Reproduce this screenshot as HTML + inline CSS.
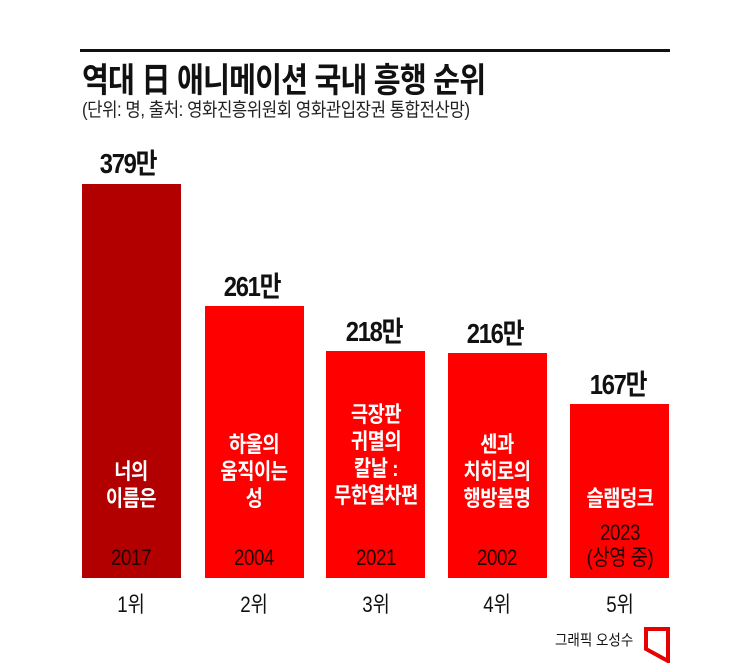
<!DOCTYPE html>
<html><head><meta charset="utf-8"><style>
body{margin:0;width:745px;height:671px;background:#fff;position:relative;overflow:hidden;font-family:"Liberation Sans","Noto Sans CJK KR",sans-serif;}
.a{position:absolute;white-space:nowrap;}
.c{transform:translateX(-50%) scaleX(0.85);text-align:center;}
.bar{position:absolute;bottom:93px;width:99px;background:#ff0000;}
.v{font-size:28px;font-weight:bold;color:#111;letter-spacing:-1.5px;}
.l{font-size:22px;color:#fff;line-height:27px;font-weight:bold;letter-spacing:-0.5px;}
.y{font-size:22px;color:#220000;line-height:25px;letter-spacing:-0.5px;}
.r{font-size:22px;color:#111;}
</style></head><body>
<div class="a" style="left:80px;top:49px;width:590px;height:3px;background:#111"></div>
<div class="a" style="left:82px;top:53px;font-size:34px;font-weight:bold;color:#111;transform:scaleX(0.86);transform-origin:left;letter-spacing:-1px">역대 日 애니메이션 국내 흥행 순위</div>
<div class="a" style="left:82px;top:95px;font-size:19px;color:#222;transform:scaleX(0.88);transform-origin:left;letter-spacing:-0.5px">(단위: 명, 출처: 영화진흥위원회 영화관입장권 통합전산망)</div>

<div class="bar" style="left:82px;top:184px;background:#b20000"></div>
<div class="bar" style="left:205px;top:306px"></div>
<div class="bar" style="left:326px;top:351px"></div>
<div class="bar" style="left:448px;top:353px"></div>
<div class="bar" style="left:570px;top:404px"></div>

<div class="a c v" style="left:128px;top:142px">379만</div>
<div class="a c v" style="left:252px;top:265px">261만</div>
<div class="a c v" style="left:374px;top:310px">218만</div>
<div class="a c v" style="left:495px;top:312px">216만</div>
<div class="a c v" style="left:618px;top:363px">167만</div>

<div class="a c l" style="left:131px;top:458px">너의<br>이름은</div>
<div class="a c l" style="left:254px;top:431px">하울의<br>움직이는<br>성</div>
<div class="a c l" style="left:376px;top:401px">극장판<br>귀멸의<br>칼날 :<br>무한열차편</div>
<div class="a c l" style="left:497px;top:431px">센과<br>치히로의<br>행방불명</div>
<div class="a c l" style="left:620px;top:485px">슬램덩크</div>

<div class="a c y" style="left:131px;top:545px">2017</div>
<div class="a c y" style="left:254px;top:545px">2004</div>
<div class="a c y" style="left:376px;top:545px">2021</div>
<div class="a c y" style="left:497px;top:545px">2002</div>
<div class="a c y" style="left:620px;top:520px">2023<br>(상영 중)</div>

<div class="a c r" style="left:131px;top:587px">1위</div>
<div class="a c r" style="left:254px;top:587px">2위</div>
<div class="a c r" style="left:376px;top:587px">3위</div>
<div class="a c r" style="left:497px;top:587px">4위</div>
<div class="a c r" style="left:620px;top:587px">5위</div>

<div class="a" style="left:555px;top:629px;font-size:15px;color:#111;transform:scaleX(0.9);transform-origin:left">그래픽 오성수</div>
<svg class="a" style="left:644px;top:627px" width="26" height="36" viewBox="0 0 26 36"><path d="M2 2 L24 2 L24 34 L2 22 Z" fill="none" stroke="#e60000" stroke-width="4"/></svg>
</body></html>
